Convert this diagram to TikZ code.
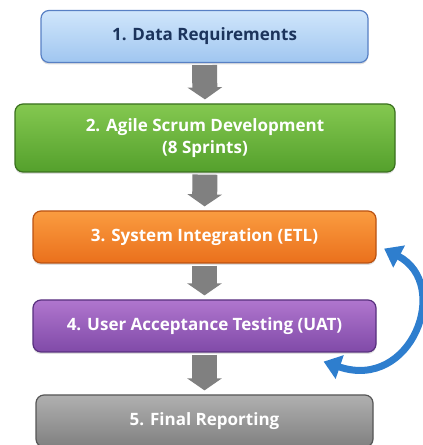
\documentclass[tikz,border=0pt]{standalone}
\usepackage{fontspec}
\setmainfont{Open Sans}
\usetikzlibrary{arrows.meta,shadows}

\definecolor{reqtop}{RGB}{208,230,251}
\definecolor{reqbot}{RGB}{160,198,240}
\definecolor{reqline}{RGB}{88,128,196}
\definecolor{reqtext}{RGB}{28,52,92}
\definecolor{devtop}{RGB}{132,200,80}
\definecolor{devbot}{RGB}{84,160,44}
\definecolor{devline}{RGB}{58,112,30}
\definecolor{etltop}{RGB}{250,156,64}
\definecolor{etlbot}{RGB}{234,112,28}
\definecolor{etlline}{RGB}{186,82,18}
\definecolor{uattop}{RGB}{176,118,206}
\definecolor{uatbot}{RGB}{128,74,168}
\definecolor{uatline}{RGB}{88,48,126}
\definecolor{reptop}{RGB}{176,176,176}
\definecolor{repbot}{RGB}{128,128,128}
\definecolor{repline}{RGB}{86,86,86}
\definecolor{flowgray}{RGB}{128,128,128}
\definecolor{loopblue}{RGB}{46,126,206}

\tikzset{
  stage/.style={draw, line width=1.2pt, rounded corners=8pt, inner sep=0pt,
    minimum height=52pt, align=center, text=white,
    font=\bfseries\fontsize{17}{22}\selectfont,
    drop shadow={opacity=0.25, shadow xshift=0pt, shadow yshift=-2pt}},
  flow/.style={draw=flowgray, line width=25pt, shorten <=2pt, shorten >=4pt,
    -{Triangle[width=34pt,length=12pt]}},
  loop/.style={draw=loopblue, line width=7pt,
    {Triangle[width=24pt,length=17pt]}-{Triangle[width=24pt,length=17pt]}}
}

\begin{document}
\begin{tikzpicture}[x=1pt,y=1pt]
\useasboundingbox (0,0) rectangle (423,445);

\node[stage, minimum width=327pt, top color=reqtop, bottom color=reqbot, draw=reqline, text=reqtext] (req) at (204.5,408.5) {1. Data Requirements};
\node[stage, minimum width=380pt, minimum height=68pt, top color=devtop, bottom color=devbot, draw=devline] (dev) at (205,307) {2. Agile Scrum Development\\(8 Sprints)};
\node[stage, minimum width=343pt, top color=etltop, bottom color=etlbot, draw=etlline] (etl) at (204.5,208) {3. System Integration (ETL)};
\node[stage, minimum width=343pt, top color=uattop, bottom color=uatbot, draw=uatline] (uat) at (204.5,119) {4. User Acceptance Testing (UAT)};
\node[stage, minimum width=337pt, top color=reptop, bottom color=repbot, draw=repline] (rep) at (204.5,24) {5. Final Reporting};

\draw[flow] (req.south) -- (dev.north);
\draw[flow] (dev.south) -- (etl.north);
\draw[flow] (etl.south) -- (uat.north);
\draw[flow] (uat.south) -- (rep.north);

% feedback between testing and integration
\coordinate (loopin) at ([shift={(-53,-9)}]uat.south east);
\coordinate (loopout) at ([shift={(7.5,15)}]etl.south east);
\draw[loop] (loopin) .. controls +(88,-30) and +(68,-36) .. (loopout);

\end{tikzpicture}
\end{document}
